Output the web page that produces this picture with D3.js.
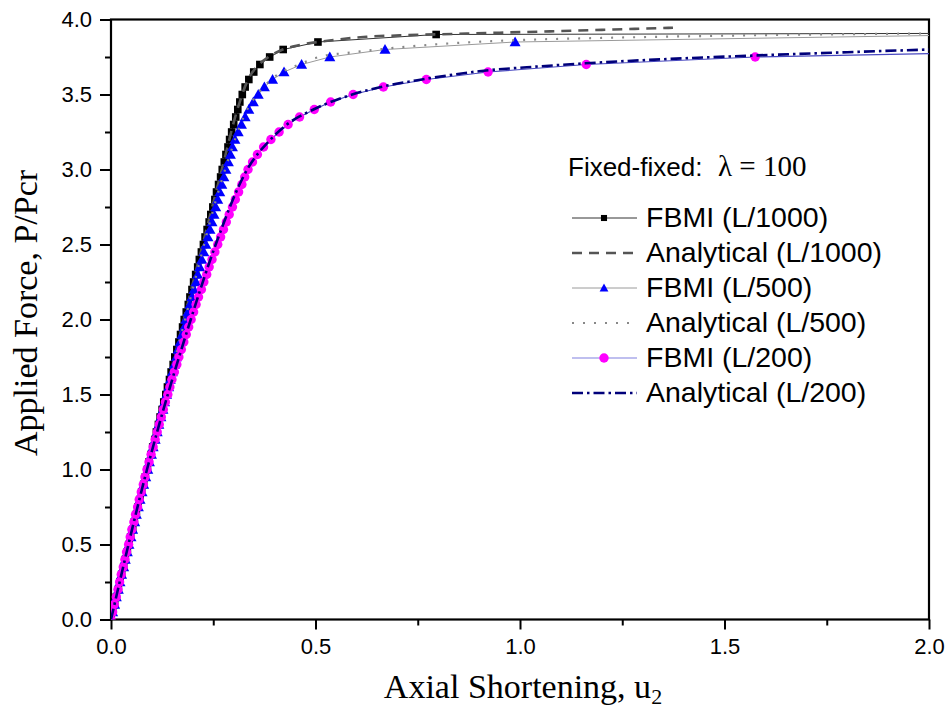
<!DOCTYPE html>
<html>
<head>
<meta charset="utf-8">
<script src="https://cdn.jsdelivr.net/npm/d3@7"></script>
<style>
  html, body { margin: 0; padding: 0; background: #fff; }
  svg { display: block; }
</style>
</head>
<body>
<svg id="chart" width="950" height="711"></svg>
<script>
// ---------------- DATA ----------------
const xTicks = [0.0, 0.5, 1.0, 1.5, 2.0];
const xMinorTicks = [0.25, 0.75, 1.25, 1.75];
const yTicks = [0.0, 0.5, 1.0, 1.5, 2.0, 2.5, 3.0, 3.5, 4.0];
const yMinorTicks = [0.25, 0.75, 1.25, 1.75, 2.25, 2.75, 3.25, 3.75];

// load steps (P/Pcr) of the FBMI analyses
const loadSteps = [
  0.00,0.05,0.10,0.15,0.20,0.25,0.30,0.35,0.40,0.45,
  0.50,0.55,0.60,0.65,0.70,0.75,0.80,0.85,0.90,0.95,
  1.00,1.05,1.10,1.15,1.20,1.25,1.30,1.35,1.40,1.45,
  1.50,1.55,1.60,1.65,1.70,1.75,1.80,1.85,1.90,1.95,
  2.00,2.05,2.10,2.15,2.20,2.25,2.30,2.35,2.40,2.45,
  2.50,2.55,2.60,2.65,2.70,2.75,2.80,2.85,2.90,2.95,
  3.00,3.05,3.10,3.15,3.20,3.25,3.30,3.35,3.40,3.45,
  3.50,3.55,3.60,3.65,3.70,3.75,3.80,3.85,3.90];

// FBMI axial shortening at each load step
const fbmi1000U = [
  0,0.004,0.009,0.013,0.018,0.022,0.026,0.031,0.035,0.040,
  0.044,0.048,0.053,0.057,0.062,0.066,0.071,0.075,0.080,0.084,
  0.089,0.093,0.098,0.102,0.107,0.111,0.116,0.120,0.125,0.129,
  0.134,0.138,0.143,0.147,0.152,0.156,0.161,0.166,0.170,0.175,
  0.179,0.184,0.189,0.193,0.198,0.202,0.207,0.212,0.216,0.221,
  0.226,0.230,0.235,0.240,0.244,0.249,0.254,0.258,0.263,0.268,
  0.272,0.277,0.281,0.286,0.290,0.295,0.300,0.305,0.310,0.315,
  0.321,0.328,0.337,0.349,0.364,0.388,0.421,0.506,0.795];
const fbmi500U = [
  0,0.004,0.009,0.013,0.018,0.022,0.026,0.031,0.035,0.040,
  0.044,0.049,0.053,0.058,0.062,0.067,0.071,0.076,0.080,0.085,
  0.090,0.094,0.099,0.103,0.108,0.113,0.117,0.122,0.127,0.131,
  0.136,0.141,0.145,0.150,0.155,0.160,0.164,0.169,0.174,0.179,
  0.183,0.188,0.193,0.198,0.203,0.208,0.212,0.217,0.222,0.227,
  0.232,0.237,0.242,0.247,0.252,0.256,0.261,0.266,0.271,0.276,
  0.281,0.287,0.292,0.297,0.303,0.311,0.319,0.328,0.337,0.348,
  0.360,0.375,0.395,0.423,0.466,0.535,0.670,0.988];
const fbmi200U = [
  0,0.004,0.008,0.013,0.017,0.021,0.025,0.030,0.034,0.038,
  0.043,0.047,0.051,0.056,0.060,0.065,0.069,0.074,0.079,0.083,
  0.088,0.093,0.098,0.103,0.108,0.113,0.118,0.123,0.128,0.133,
  0.139,0.144,0.149,0.155,0.161,0.166,0.172,0.178,0.184,0.190,
  0.196,0.202,0.208,0.214,0.221,0.227,0.234,0.240,0.247,0.254,
  0.261,0.268,0.275,0.282,0.289,0.297,0.304,0.312,0.320,0.327,
  0.335,0.346,0.358,0.373,0.391,0.411,0.433,0.461,0.497,0.537,
  0.592,0.666,0.771,0.922,1.162,1.575];
// last (tail) point of each FBMI line, at the frame edge  [L/1000, L/500, L/200]
const fbmiTailU = [2.0, 2.0, 2.0];
const fbmiTailP = [3.907, 3.893, 3.773];

// Analytical solutions
const anal1000U = [0,0.088,0.178,0.271,0.309,0.335,0.362,0.385,0.420,0.462,0.544,0.625,0.707,0.795,0.870,0.951,1.073,1.200,1.374];
const anal1000P = [0,1.0,2.0,3.0,3.4,3.6,3.7,3.75,3.8,3.83,3.863,3.885,3.894,3.901,3.906,3.912,3.921,3.931,3.945];
const anal500U = [0,0.089,0.181,0.279,0.333,0.357,0.392,0.418,0.460,0.511,0.584,0.670,0.798,0.951,1.200,1.500,2.000];
const anal500P = [0,1.0,2.0,3.0,3.4,3.5,3.6,3.65,3.70,3.752,3.779,3.805,3.835,3.858,3.877,3.892,3.907];
const anal200U = [0,0.088,0.195,0.256,0.333,0.390,0.430,0.495,0.590,0.660,0.760,0.900,1.050,1.160,1.350,1.575,1.800,2.000];
const anal200P = [0,1.0,2.0,2.5,3.0,3.2,3.3,3.4,3.5,3.55,3.6,3.655,3.688,3.708,3.735,3.760,3.782,3.800];

const legendLabels = ["FBMI (L/1000)", "Analytical (L/1000)", "FBMI (L/500)", "Analytical (L/500)", "FBMI (L/200)", "Analytical (L/200)"];

// ---------------- CHART ----------------
const svg = d3.select("#chart");
const X0 = 111, X1 = 929, Y0 = 619.5, Y1 = 19.5;
const x = d3.scaleLinear().domain([0, 2.0]).range([X0, X1]);
const y = d3.scaleLinear().domain([0, 4.0]).range([Y0, Y1]);

svg.append("defs").append("clipPath").attr("id", "clip")
  .append("rect").attr("x", X0).attr("y", Y1).attr("width", X1 - X0).attr("height", Y0 - Y1);

const sans = "'Liberation Sans', Arial, sans-serif";
const serif = "'Liberation Serif', 'Times New Roman', serif";

// Axes
const fmt = d3.format(".1f");
const gx = svg.append("g").attr("transform", `translate(0,${Y0})`)
  .call(d3.axisBottom(x).tickValues(xTicks).tickFormat(fmt).tickSize(10).tickPadding(9));
const gxm = svg.append("g").attr("transform", `translate(0,${Y0})`)
  .call(d3.axisBottom(x).tickValues(xMinorTicks).tickFormat("").tickSize(6));
const gy = svg.append("g").attr("transform", `translate(${X0},0)`)
  .call(d3.axisLeft(y).tickValues(yTicks).tickFormat(fmt).tickSize(11).tickPadding(8));
const gym = svg.append("g").attr("transform", `translate(${X0},0)`)
  .call(d3.axisLeft(y).tickValues(yMinorTicks).tickFormat("").tickSize(6));
[gx, gxm, gy, gym].forEach(g => {
  g.select(".domain").remove();
  g.selectAll(".tick line").attr("stroke", "#000").attr("stroke-width", 2);
  g.selectAll(".tick text").attr("fill", "#000").style("font-family", sans).style("font-size", "22px");
});

// Frame
svg.append("rect").attr("x", X0).attr("y", Y1).attr("width", X1 - X0).attr("height", Y0 - Y1)
  .attr("fill", "none").attr("stroke", "#000").attr("stroke-width", 2.2);

// Series
const plot = svg.append("g").attr("clip-path", "url(#clip)");
const linLine = d3.line().x(d => x(d[0])).y(d => y(d[1]));
const smoothLine = d3.line().x(d => x(d[0])).y(d => y(d[1])).curve(d3.curveMonotoneX);

function fbmiPoints(uArr) { return uArr.map((u, i) => [u, loadSteps[i]]); }
function zipPts(uArr, pArr) { return uArr.map((u, i) => [u, pArr[i]]); }

const series = [
  { kind: "fbmi", pts: fbmiPoints(fbmi1000U), tail: 0, line: "#333", lw: 1, marker: "square", mfill: "#000" },
  { kind: "anal", pts: zipPts(anal1000U, anal1000P), line: "#555", lw: 2.6, dash: "10,7" },
  { kind: "fbmi", pts: fbmiPoints(fbmi500U), tail: 1, line: "#9a9a9a", lw: 1, marker: "triangle", mfill: "#0000ff" },
  { kind: "anal", pts: zipPts(anal500U, anal500P), line: "#888", lw: 2.2, dash: "2,9" },
  { kind: "fbmi", pts: fbmiPoints(fbmi200U), tail: 2, line: "#4848c0", lw: 1.2, marker: "circle", mfill: "#ff00ff" },
  { kind: "anal", pts: zipPts(anal200U, anal200P), line: "#00007a", lw: 2.6, dash: "11,4,2.5,4" },
];

function drawMarker(g, type, cx, cy, fill, s) {
  s = s || 1;
  if (type === "square") {
    g.append("rect").attr("x", cx - 3.8 * s).attr("y", cy - 3.8 * s).attr("width", 7.6 * s).attr("height", 7.6 * s).attr("fill", fill);
  } else if (type === "triangle") {
    g.append("path").attr("d", `M${cx},${cy - 5.5 * s}L${cx + 5.5 * s},${cy + 4.3 * s}L${cx - 5.5 * s},${cy + 4.3 * s}Z`).attr("fill", fill);
  } else {
    g.append("circle").attr("cx", cx).attr("cy", cy).attr("r", 4.7 * s).attr("fill", fill);
  }
}

series.forEach(s => {
  if (s.kind === "fbmi") {
    const all = s.pts.concat([[fbmiTailU[s.tail], fbmiTailP[s.tail]]]);
    plot.append("path").attr("d", linLine(all)).attr("fill", "none")
      .attr("stroke", s.line).attr("stroke-width", s.lw);
    const mg = plot.append("g");
    s.pts.forEach(p => drawMarker(mg, s.marker, x(p[0]), y(p[1]), s.mfill));
  } else {
    plot.append("path").attr("d", smoothLine(s.pts)).attr("fill", "none")
      .attr("stroke", s.line).attr("stroke-width", s.lw).attr("stroke-dasharray", s.dash);
  }
});

// Axis titles
const xt = svg.append("text").attr("x", 523).attr("y", 698).attr("text-anchor", "middle")
  .style("font-family", serif).style("font-size", "34px").attr("fill", "#000");
xt.append("tspan").text("Axial Shortening, u");
xt.append("tspan").attr("dy", 6).style("font-size", "22px").text("2");

svg.append("text").attr("transform", "translate(37,313) rotate(-90)").attr("text-anchor", "middle")
  .style("font-family", serif).style("font-size", "34px").attr("fill", "#000")
  .text("Applied Force, P/Pcr");

// Legend header
svg.append("text").attr("x", 568).attr("y", 176).style("font-family", sans).style("font-size", "26px")
  .attr("fill", "#000").text("Fixed-fixed:");
svg.append("text").attr("x", 718).attr("y", 176).style("font-family", serif).style("font-size", "29px")
  .attr("fill", "#000").text("λ = 100");

// Legend entries
const lg = svg.append("g");
legendLabels.forEach((lab, i) => {
  const s = series[i];
  const base = 227 + i * 35;
  const ly = base - 9;
  const ln = lg.append("line").attr("x1", 572).attr("x2", 637).attr("y1", ly).attr("y2", ly)
    .attr("stroke", s.kind === "fbmi" && s.marker === "circle" ? "#8080e0" : s.line)
    .attr("stroke-width", s.lw);
  if (s.dash) ln.attr("stroke-dasharray", s.dash);
  if (s.kind === "fbmi") {
    drawMarker(lg, s.marker, 604, ly, s.mfill, s.marker === "circle" ? 1 : 0.8);
  }
  lg.append("text").attr("x", 646).attr("y", base).style("font-family", sans).style("font-size", "28.5px")
    .attr("fill", "#000").text(lab);
});
</script>
</body>
</html>
